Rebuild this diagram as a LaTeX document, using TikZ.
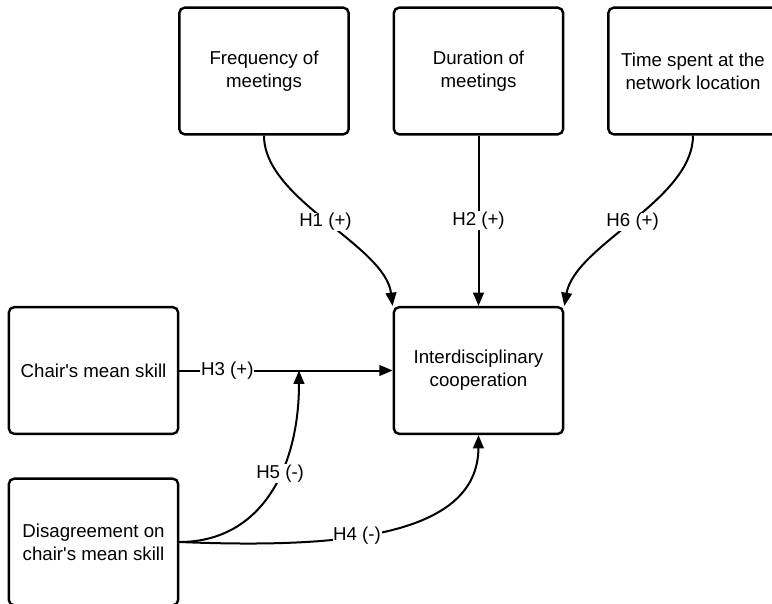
\documentclass[tikz,border=0pt]{standalone}
\usepackage{fontspec}
\setmainfont{Liberation Sans}
\usetikzlibrary{arrows.meta}

\tikzset{every picture/.style={line width=0.75pt}}
\tikzset{
  box/.style={draw, line width=1.8pt, rounded corners=4pt, minimum width=127pt, minimum height=95pt, align=center, inner sep=0pt},
  link/.style={line width=1.5pt, -{Triangle[length=10pt,width=8pt]}},
  hyp/.style={fill=white, inner sep=0.5pt}
}

\begin{document}
\begin{tikzpicture}[x=0.75pt,y=0.75pt,yscale=-1,xscale=1,font=\fontsize{14}{17.4}\selectfont]

\useasboundingbox (0,0) rectangle (772,604);
\clip (0,0) rectangle (772,604);

% boxes
\node [box] (freq) at (264,71) {Frequency of\\meetings};
\node [box] (dur) at (478.5,71) {Duration of\\meetings};
\node [box] (time) at (693,71) {Time spent at the\\network location};
\node [box] (coop) at (478.5,370.5) {Interdisciplinary\\cooperation};
\node [box] (chair) at (93.5,370.5) {Chair\textquotesingle s mean skill};
\node [box] (disag) at (93.5,542) {Disagreement on\\chair\textquotesingle s mean skill};

\coordinate (join) at (299,370.5);

% hypotheses
\draw [link] (freq.south) .. controls (264,200) and (385,245) .. (coop.north west) node [hyp, pos=0.5] {H1 (+)};
\draw [link] (dur.south) -- (coop.north) node [hyp, pos=0.5] {H2 (+)};
\draw [link] (time.south) .. controls (693,200) and (575,245) .. (coop.north east) node [hyp, pos=0.5] {H6 (+)};
\draw [link] (chair.east) -- (coop.west) node [hyp, pos=0.225] {H3 (+)};
\draw [link] (disag.east) .. controls (260,542) and (299,470) .. (join) node [hyp, pos=0.6] {H5 (-)};
\draw [link] (disag.east) .. controls (330,548) and (478,540) .. (coop.south) node [hyp, pos=0.42] {H4 (-)};

\end{tikzpicture}
\end{document}
